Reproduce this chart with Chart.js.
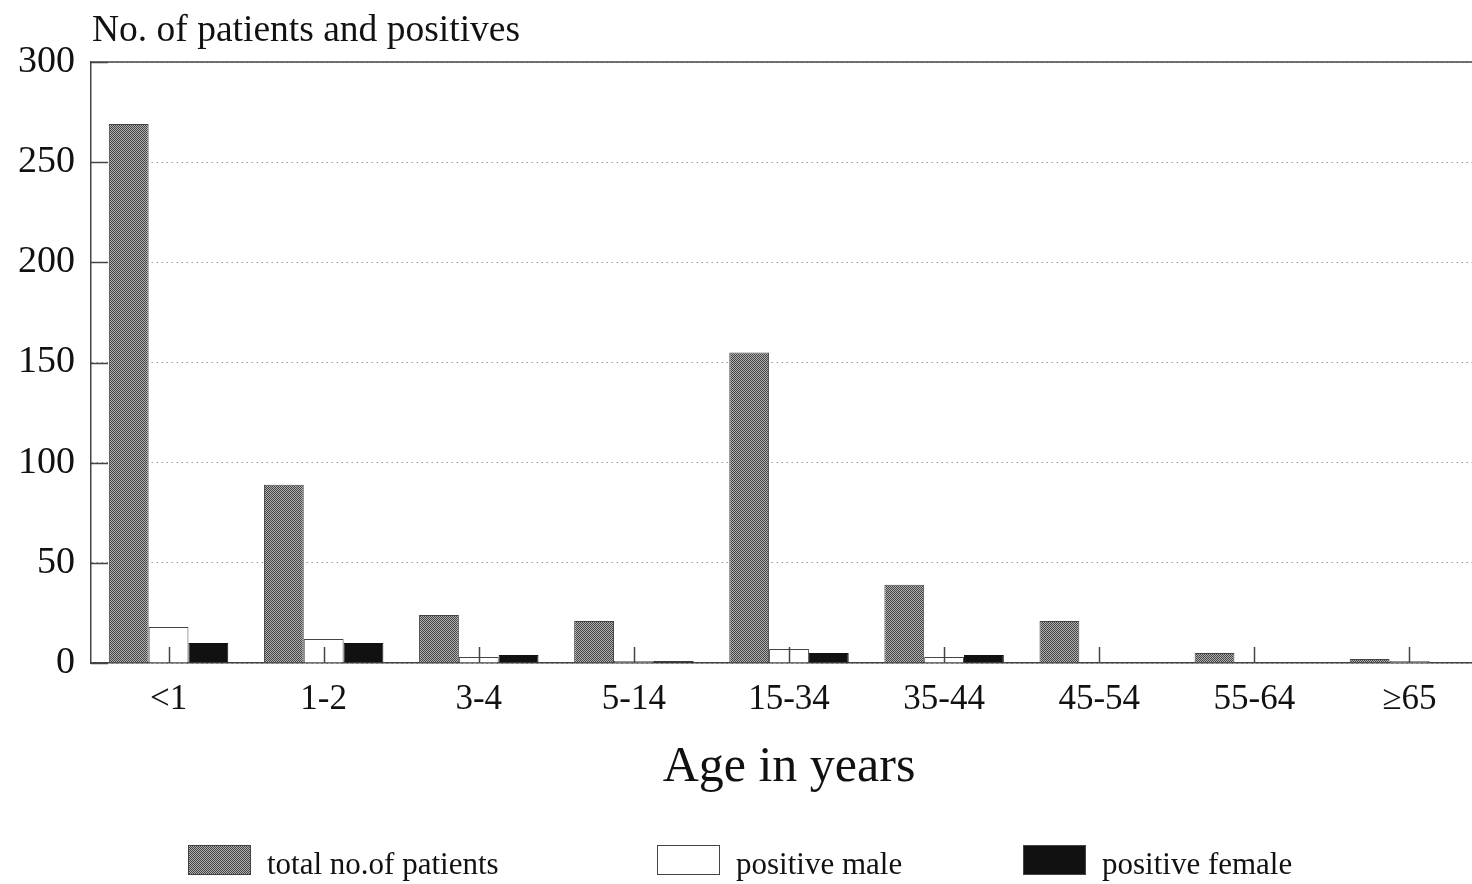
<!DOCTYPE html>
<html>
<head>
<meta charset="utf-8">
<script src="https://cdn.jsdelivr.net/npm/chart.js@4/dist/chart.umd.min.js"></script>
<style>
  html, body { margin: 0; padding: 0; background: #fff; overflow: hidden; }
  #wrap { width: 1500px; height: 884px; }
</style>
</head>
<body>
<div id="wrap"><canvas id="chart" width="1500" height="884"></canvas></div>
<script>
const ageGroups = ['<1', '1-2', '3-4', '5-14', '15-34', '35-44', '45-54', '55-64', '\u226565'];
const totalPatients = [269, 89, 24, 21, 155, 39, 21, 5, 2];
const positiveMale = [18, 12, 3, 1, 7, 3, 0, 0, 1];
const positiveFemale = [10, 10, 4, 1, 5, 4, 0, 0, 0];
const yTicks = [0, 50, 100, 150, 200, 250, 300];

const yTitle = 'No. of patients and positives';
const xTitle = 'Age in years';
const serif = '"Liberation Serif", "DejaVu Serif", serif';

// dithered grey like the printed original
function dither() {
    const c = document.createElement('canvas');
    c.width = 2; c.height = 2;
    const g = c.getContext('2d');
    g.fillStyle = '#b0b0b0';
    g.fillRect(0, 0, 2, 2);
    g.fillStyle = '#444444';
    g.fillRect(0, 0, 1, 1);
    g.fillRect(1, 1, 1, 1);
    return g.createPattern(c, 'repeat');
}

const ctx = document.getElementById('chart').getContext('2d');
const greyFill = dither();

const decor = {
    id: 'decor',
    afterDatasetsDraw(chart) {
        const { ctx, chartArea: a, scales: { x, y } } = chart;
        ctx.save();
        ctx.strokeStyle = '#444';
        ctx.lineWidth = 1.5;
        ctx.beginPath();
        ctx.moveTo(a.left, a.top);
        ctx.lineTo(a.right, a.top);
        // ticks point into the plot
        x.ticks.forEach((t, i) => {
            const px = Math.round(x.getPixelForTick(i)) + 0.5;
            ctx.moveTo(px, a.bottom);
            ctx.lineTo(px, a.bottom - 16);
        });
        y.ticks.forEach((t, i) => {
            const py = Math.round(y.getPixelForTick(i)) + 0.5;
            ctx.moveTo(a.left, py);
            ctx.lineTo(a.left + 17, py);
        });
        ctx.stroke();
        ctx.restore();
    },
    afterDraw(chart) {
        const { ctx, chartArea: a } = chart;
        ctx.save();
        ctx.fillStyle = '#111';
        ctx.textBaseline = 'middle';
        ctx.textAlign = 'left';
        ctx.font = '37.5px ' + serif;
        ctx.fillText(yTitle, a.left + 1, a.top - 31);

        // legend row under the axis title
        const boxX = [188, 657, 1023];
        ctx.font = '31px ' + serif;
        chart.data.datasets.forEach((ds, i) => {
            ctx.fillStyle = ds.backgroundColor;
            ctx.fillRect(boxX[i], 845, 63, 30);
            ctx.strokeStyle = '#444';
            ctx.lineWidth = 1;
            ctx.strokeRect(boxX[i] + 0.5, 845.5, 62, 29);
            ctx.fillStyle = '#111';
            ctx.fillText(ds.label, boxX[i] + 79, 866);
        });
        ctx.restore();
    }
};

new Chart(ctx, {
    type: 'bar',
    data: {
        labels: ageGroups,
        datasets: [
            {
                label: 'total no.of patients',
                data: totalPatients,
                backgroundColor: greyFill,
                borderColor: '#444',
                borderWidth: 1
            },
            {
                label: 'positive male',
                data: positiveMale,
                backgroundColor: '#ffffff',
                borderColor: '#444',
                borderWidth: 1
            },
            {
                label: 'positive female',
                data: positiveFemale,
                backgroundColor: '#111111',
                borderColor: '#111',
                borderWidth: 1
            }
        ]
    },
    options: {
        responsive: false,
        animation: false,
        layout: { padding: { top: 62, right: 13, left: 0, bottom: 0 } },
        datasets: {
            bar: { categoryPercentage: 0.77, barPercentage: 1.0 }
        },
        scales: {
            x: {
                afterFit: s => { s.height = 221; },
                grid: { display: false },
                border: { display: true, color: '#444', width: 1.5 },
                ticks: {
                    color: '#111',
                    padding: 8,
                    font: { size: 35, family: serif }
                },
                title: {
                    display: true,
                    text: xTitle,
                    color: '#111',
                    font: { size: 50, family: serif },
                    padding: { top: 0, bottom: 86 }
                }
            },
            y: {
                min: 0,
                max: 300,
                afterFit: s => { s.width = 91; },
                afterBuildTicks: s => { s.ticks = yTicks.map(v => ({ value: v })); },
                grid: { color: '#999', lineWidth: 1, drawTicks: false },
                border: { display: true, color: '#444', width: 1.5, dash: [1.5, 3.5] },
                ticks: {
                    color: '#111',
                    padding: 16,
                    font: { size: 38, family: serif }
                }
            }
        },
        plugins: {
            legend: { display: false },
            tooltip: { enabled: false }
        }
    },
    plugins: [decor]
});
</script>
</body>
</html>
